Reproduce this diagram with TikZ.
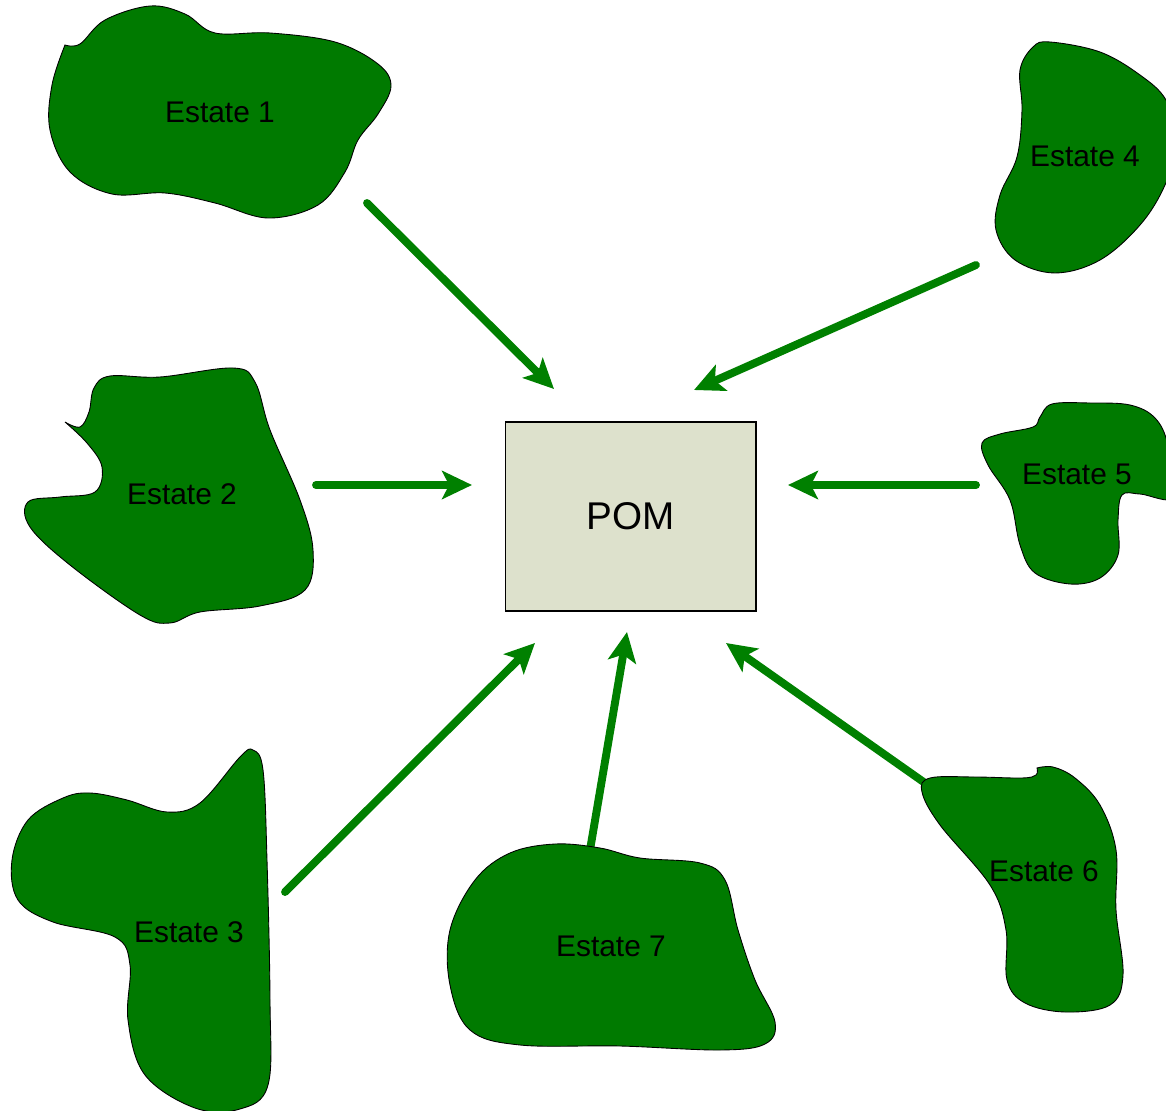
\documentclass[tikz,border=0pt]{standalone}
\usepackage{fontspec}
\setmainfont{Liberation Sans}
\usetikzlibrary{arrows.meta}
\definecolor{blobgreen}{RGB}{0,122,0}
\definecolor{arrgreen}{RGB}{0,128,0}
\definecolor{pomfill}{RGB}{221,225,204}
\begin{document}
\begin{tikzpicture}[x=0.02cm,y=-0.02cm,
  blob/.style={fill=blobgreen,draw=black,line width=0.5pt},
  arr/.style={draw=arrgreen,line width=4.5pt,line cap=round,-{Stealth[length=17pt,width=16pt,inset=4pt]}},
  lbl/.style={font=\fontsize{17}{20}\selectfont,inner sep=0pt,text=black},
  pombox/.style={draw=black,fill=pomfill,line width=0.6pt,minimum width=5.02cm,minimum height=3.78cm,inner sep=0pt,font=\fontsize{22}{26}\selectfont}
]
\useasboundingbox (0,0) rectangle (1166,1111);
\clip (0,0) rectangle (1166,1111);

% POM box
\node[pombox] (pom) at (630.5,516.5) {POM};

% arrow end points
\coordinate (s1) at (367,203);  \coordinate (t1) at (554,389);
\coordinate (s2) at (316,485);  \coordinate (t2) at (472,485);
\coordinate (s3) at (285,892);  \coordinate (t3) at (535,643);
\coordinate (s4) at (976,265);  \coordinate (t4) at (694,390);
\coordinate (s5) at (976,485);  \coordinate (t5) at (788,485);
\coordinate (s6) at (925,783);  \coordinate (t6) at (726,643);
\coordinate (s7) at (590,850);  \coordinate (t7) at (627,632);

\draw[arr] (s1) -- (t1);
\draw[arr] (s2) -- (t2);
\draw[arr] (s3) -- (t3);
\draw[arr] (s4) -- (t4);
\draw[arr] (s5) -- (t5);
\draw[arr] (s6) -- (t6);
\draw[arr] (s7) -- (t7);

% Estate 1
\filldraw[blob] plot[smooth,tension=0.6] coordinates {(65,45) (80,44) (105,20) (150,6) (185,14) (215,33) (270,33) (335,42) (378,64) (391,86) (378,114) (358,140) (345,172) (318,205) (268,218) (215,203) (165,193) (112,194) (70,172) (50,130) (52,85) (65,45)} -- cycle;
% Estate 2
\filldraw[blob] plot[smooth,tension=0.6] coordinates {(65,422) (80,427) (89,412) (94,388) (110,376) (160,377) (233,368) (255,382) (270,430) (300,500) (313,550) (305,590) (260,606) (200,612) (170,623) (140,615) (70,565) (30,527) (28,502) (60,497) (95,492) (102,467) (87,443) (65,422)} -- cycle;
% Estate 3
\filldraw[blob] plot[smooth cycle,tension=0.6] coordinates {(63,798) (90,793) (127,800) (167,812) (200,803) (240,757) (253,750) (263,770) (267,860) (270,1000) (268,1085) (240,1109) (195,1108) (145,1075) (128,1020) (130,965) (115,937) (53,922) (18,900) (12,860) (28,820)};
% Estate 4
\filldraw[blob] plot[smooth cycle,tension=0.6] coordinates {(1050,42) (1100,52) (1140,75) (1166,100) (1178,140) (1165,185) (1140,225) (1100,260) (1055,273) (1015,260) (996,230) (1000,195) (1017,157) (1022,110) (1020,70) (1033,47)};
% Estate 5
\filldraw[blob] plot[smooth cycle,tension=0.6] coordinates {(1040,417) (1052,404) (1090,403) (1130,405) (1155,418) (1168,445) (1175,497) (1140,494) (1122,495) (1118,520) (1118,555) (1100,578) (1070,584) (1035,573) (1020,545) (1010,500) (988,465) (982,443) (1000,434) (1033,427)};
% Estate 6
\filldraw[blob] plot[smooth,tension=0.6] coordinates {(1037,768) (1036,775) (1022,778) (975,777) (930,778) (922,792) (940,825) (990,885) (1006,930) (1007,980) (1025,1003) (1065,1012) (1110,1005) (1123,975) (1116,910) (1116,850) (1100,805) (1075,778) (1053,767) (1037,768)} -- cycle;
% Estate 7
\filldraw[blob] plot[smooth cycle,tension=0.6] coordinates {(555,844) (600,848) (640,858) (700,863) (725,880) (738,930) (755,980) (775,1022) (765,1044) (720,1050) (620,1046) (520,1045) (470,1030) (450,985) (450,930) (475,880) (510,853)};

% labels
\node[lbl] (e1) at (220,112) {Estate 1};
\node[lbl] (e2) at (182,494) {Estate 2};
\node[lbl] (e3) at (189,932) {Estate 3};
\node[lbl] (e4) at (1085,156) {Estate 4};
\node[lbl] (e5) at (1077,474) {Estate 5};
\node[lbl] (e6) at (1044,871) {Estate 6};
\node[lbl] (e7) at (611,946) {Estate 7};
\end{tikzpicture}
\end{document}
